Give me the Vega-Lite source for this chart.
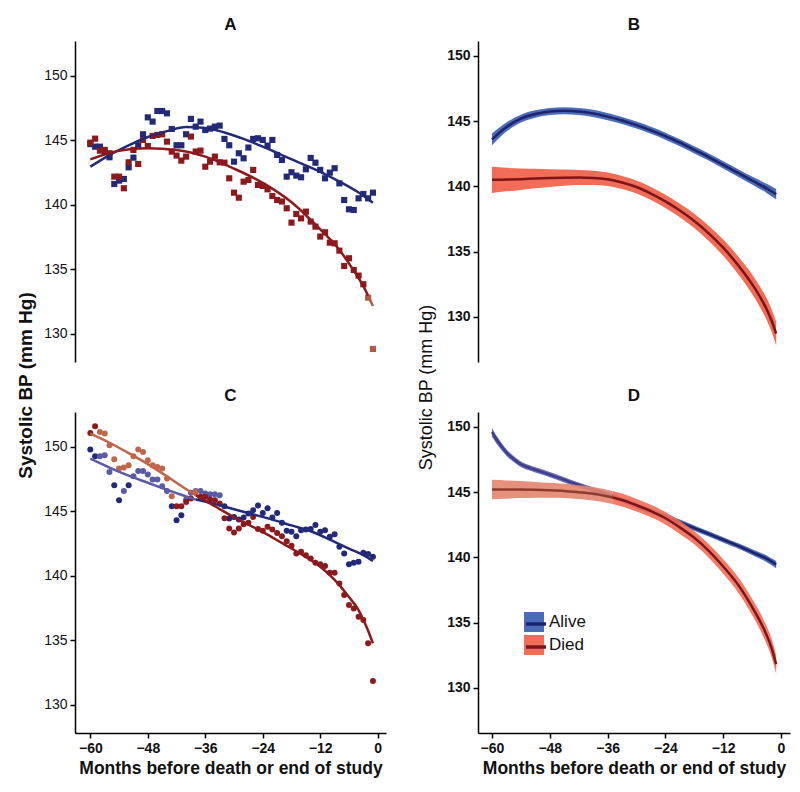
{
  "$schema": "https://vega.github.io/schema/vega-lite/v6.json",
  "background": "white",
  "padding": {"left": 16, "top": 16, "right": 5, "bottom": 5},
  "bounds": "flush",
  "columns": 2,
  "spacing": {"row": 50, "column": 92},
  "config": {
    "font": "Liberation Sans",
    "view": {"stroke": null},
    "axis": {"grid": false, "domainColor": "#000", "domainWidth": 1.5, "tickColor": "#000", "tickWidth": 1.5, "tickSize": 5, "labelFontSize": 14, "labelColor": "#111", "labelPadding": 3, "titleColor": "#111"},
    "title": {"fontSize": 17, "fontWeight": "bold", "offset": 7, "color": "#111", "anchor": "middle", "frame": "group"}
  },
  "resolve": {"scale": {"color": "independent", "fill": "independent", "stroke": "independent"}},
  "datasets": {
    "ptsA": [
      {"month":-60,"sbp":144.7,"group":"Alive"},{"month":-59,"sbp":144.5,"group":"Alive"},{"month":-58,"sbp":144.5,"group":"Alive"},{"month":-57,"sbp":144.12,"group":"Alive"},{"month":-56,"sbp":143.68,"group":"Alive"},{"month":-55,"sbp":141.61,"group":"Alive"},{"month":-54,"sbp":141.87,"group":"Alive"},{"month":-53,"sbp":142.0,"group":"Alive"},{"month":-52,"sbp":142.9,"group":"Alive"},{"month":-51,"sbp":143.65,"group":"Alive"},
      {"month":-50,"sbp":144.61,"group":"Alive"},{"month":-49,"sbp":145.46,"group":"Alive"},{"month":-48,"sbp":146.77,"group":"Alive"},{"month":-47,"sbp":146.44,"group":"Alive"},{"month":-46,"sbp":147.26,"group":"Alive"},{"month":-45,"sbp":147.26,"group":"Alive"},{"month":-44,"sbp":147.08,"group":"Alive"},{"month":-43,"sbp":145.87,"group":"Alive"},{"month":-42,"sbp":144.61,"group":"Alive"},{"month":-41,"sbp":144.61,"group":"Alive"},
      {"month":-40,"sbp":145.46,"group":"Alive"},{"month":-39,"sbp":146.65,"group":"Alive"},{"month":-38,"sbp":146.05,"group":"Alive"},{"month":-37,"sbp":146.44,"group":"Alive"},{"month":-36,"sbp":145.79,"group":"Alive"},{"month":-35,"sbp":145.9,"group":"Alive"},{"month":-34,"sbp":146.05,"group":"Alive"},{"month":-33,"sbp":146.13,"group":"Alive"},{"month":-32,"sbp":145.1,"group":"Alive"},{"month":-31,"sbp":144.61,"group":"Alive"},
      {"month":-30,"sbp":143.34,"group":"Alive"},{"month":-29,"sbp":143.99,"group":"Alive"},{"month":-28,"sbp":143.6,"group":"Alive"},{"month":-27,"sbp":144.43,"group":"Alive"},{"month":-26,"sbp":145.1,"group":"Alive"},{"month":-25,"sbp":145.15,"group":"Alive"},{"month":-24,"sbp":145.02,"group":"Alive"},{"month":-23,"sbp":144.58,"group":"Alive"},{"month":-22,"sbp":145.02,"group":"Alive"},{"month":-21,"sbp":143.86,"group":"Alive"},
      {"month":-20,"sbp":143.47,"group":"Alive"},{"month":-19,"sbp":142.18,"group":"Alive"},{"month":-18,"sbp":142.52,"group":"Alive"},{"month":-17,"sbp":142.26,"group":"Alive"},{"month":-16,"sbp":142.13,"group":"Alive"},{"month":-15,"sbp":142.75,"group":"Alive"},{"month":-14,"sbp":143.63,"group":"Alive"},{"month":-13,"sbp":143.26,"group":"Alive"},{"month":-12,"sbp":142.7,"group":"Alive"},{"month":-11,"sbp":142.05,"group":"Alive"},
      {"month":-10,"sbp":142.49,"group":"Alive"},{"month":-9,"sbp":142.83,"group":"Alive"},{"month":-8,"sbp":141.66,"group":"Alive"},{"month":-7,"sbp":140.37,"group":"Alive"},{"month":-6,"sbp":139.65,"group":"Alive"},{"month":-5,"sbp":139.6,"group":"Alive"},{"month":-4,"sbp":140.5,"group":"Alive"},{"month":-3,"sbp":140.84,"group":"Alive"},{"month":-2,"sbp":140.5,"group":"Alive"},{"month":-1,"sbp":140.94,"group":"Alive"},
      {"month":-60,"sbp":144.81,"group":"Died"},{"month":-59,"sbp":145.12,"group":"Died"},{"month":-58,"sbp":144.19,"group":"Died"},{"month":-57,"sbp":144.25,"group":"Died"},{"month":-56,"sbp":143.99,"group":"Died"},{"month":-55,"sbp":142.18,"group":"Died"},{"month":-54,"sbp":142.18,"group":"Died"},{"month":-53,"sbp":141.28,"group":"Died"},{"month":-52,"sbp":143.29,"group":"Died"},{"month":-51,"sbp":144.25,"group":"Died"},
      {"month":-50,"sbp":143.16,"group":"Died"},{"month":-49,"sbp":145.02,"group":"Died"},{"month":-48,"sbp":144.55,"group":"Died"},{"month":-47,"sbp":145.33,"group":"Died"},{"month":-46,"sbp":145.41,"group":"Died"},{"month":-45,"sbp":145.46,"group":"Died"},{"month":-44,"sbp":144.89,"group":"Died"},{"month":-43,"sbp":144.12,"group":"Died"},{"month":-42,"sbp":143.81,"group":"Died"},{"month":-41,"sbp":143.42,"group":"Died"},
      {"month":-40,"sbp":143.73,"group":"Died"},{"month":-39,"sbp":145.28,"group":"Died"},{"month":-38,"sbp":144.12,"group":"Died"},{"month":-37,"sbp":144.19,"group":"Died"},{"month":-36,"sbp":142.95,"group":"Died"},{"month":-35,"sbp":143.34,"group":"Died"},{"month":-34,"sbp":143.73,"group":"Died"},{"month":-33,"sbp":143.29,"group":"Died"},{"month":-32,"sbp":143.26,"group":"Died"},{"month":-31,"sbp":142.05,"group":"Died"},
      {"month":-30,"sbp":140.94,"group":"Died"},{"month":-29,"sbp":140.55,"group":"Died"},{"month":-28,"sbp":141.79,"group":"Died"},{"month":-27,"sbp":141.92,"group":"Died"},{"month":-26,"sbp":142.7,"group":"Died"},{"month":-25,"sbp":141.54,"group":"Died"},{"month":-24,"sbp":141.46,"group":"Died"},{"month":-23,"sbp":141.2,"group":"Died"},{"month":-22,"sbp":140.68,"group":"Died"},{"month":-21,"sbp":140.37,"group":"Died"},
      {"month":-20,"sbp":140.25,"group":"Died"},{"month":-19,"sbp":139.73,"group":"Died"},{"month":-18,"sbp":138.62,"group":"Died"},{"month":-17,"sbp":139.29,"group":"Died"},{"month":-16,"sbp":138.95,"group":"Died"},{"month":-15,"sbp":139.47,"group":"Died"},{"month":-14,"sbp":138.7,"group":"Died"},{"month":-13,"sbp":138.31,"group":"Died"},{"month":-12,"sbp":137.54,"group":"Died"},{"month":-11,"sbp":137.87,"group":"Died"},
      {"month":-10,"sbp":137.07,"group":"Died"},{"month":-9,"sbp":137.02,"group":"Died"},{"month":-8,"sbp":136.45,"group":"Died"},{"month":-7,"sbp":135.26,"group":"Died"},{"month":-6,"sbp":135.86,"group":"Died"},{"month":-5,"sbp":134.95,"group":"Died"},{"month":-4,"sbp":134.52,"group":"Died"},{"month":-3,"sbp":133.85,"group":"Died"},{"month":-2,"sbp":132.81,"group":"Died light"},{"month":-1,"sbp":128.84,"group":"Died light"}
    ],
    "fitA": [
      {"month":-60,"sbp":142.95,"group":"Alive"},{"month":-56,"sbp":143.85,"group":"Alive"},{"month":-52,"sbp":144.6,"group":"Alive"},{"month":-48,"sbp":145.25,"group":"Alive"},{"month":-44,"sbp":145.7,"group":"Alive"},{"month":-40,"sbp":146.02,"group":"Alive"},{"month":-36,"sbp":145.95,"group":"Alive"},{"month":-32,"sbp":145.6,"group":"Alive"},{"month":-28,"sbp":145.1,"group":"Alive"},{"month":-24,"sbp":144.5,"group":"Alive"},{"month":-20,"sbp":143.85,"group":"Alive"},{"month":-16,"sbp":143.2,"group":"Alive"},{"month":-12,"sbp":142.55,"group":"Alive"},{"month":-8,"sbp":141.8,"group":"Alive"},{"month":-4,"sbp":140.95,"group":"Alive"},{"month":-1,"sbp":140.15,"group":"Alive"},
      {"month":-60,"sbp":143.52,"group":"Died"},{"month":-54,"sbp":144.19,"group":"Died"},{"month":-48,"sbp":144.37,"group":"Died"},{"month":-42,"sbp":144.25,"group":"Died"},{"month":-36,"sbp":143.73,"group":"Died"},{"month":-30,"sbp":142.8,"group":"Died"},{"month":-24,"sbp":141.7,"group":"Died"},{"month":-18,"sbp":140.2,"group":"Died"},{"month":-12,"sbp":138.1,"group":"Died"},{"month":-8,"sbp":136.5,"group":"Died"},{"month":-5,"sbp":134.9,"group":"Died"},{"month":-3,"sbp":133.7,"group":"Died"},{"month":-2,"sbp":132.95,"group":"Died"},
      {"month":-2,"sbp":132.95,"group":"Died light"},{"month":-1,"sbp":132.17,"group":"Died light"}
    ],
    "ptsC": [
      {"month":-60,"sbp":149.77,"group":"Alive"},{"month":-59,"sbp":149.25,"group":"Alive"},{"month":-58,"sbp":149.25,"group":"Alive light"},{"month":-57,"sbp":149.33,"group":"Alive light"},{"month":-56,"sbp":148.04,"group":"Alive light"},{"month":-55,"sbp":147.01,"group":"Alive"},{"month":-54,"sbp":145.85,"group":"Alive"},{"month":-53,"sbp":146.57,"group":"Alive light"},{"month":-52,"sbp":147.01,"group":"Alive"},{"month":-51,"sbp":147.71,"group":"Alive light"},
      {"month":-50,"sbp":148.12,"group":"Alive light"},{"month":-49,"sbp":148.12,"group":"Alive light"},{"month":-48,"sbp":147.84,"group":"Alive light"},{"month":-47,"sbp":147.45,"group":"Alive light"},{"month":-46,"sbp":147.45,"group":"Alive light"},{"month":-45,"sbp":146.93,"group":"Alive light"},{"month":-44,"sbp":146.57,"group":"Alive light"},{"month":-43,"sbp":145.39,"group":"Alive"},{"month":-42,"sbp":144.3,"group":"Alive"},{"month":-41,"sbp":144.69,"group":"Alive"},
      {"month":-40,"sbp":145.9,"group":"Alive light"},{"month":-39,"sbp":146.42,"group":"Alive light"},{"month":-38,"sbp":146.57,"group":"Alive light"},{"month":-37,"sbp":146.57,"group":"Alive light"},{"month":-36,"sbp":146.37,"group":"Alive light"},{"month":-35,"sbp":146.31,"group":"Alive light"},{"month":-34,"sbp":146.31,"group":"Alive light"},{"month":-33,"sbp":146.24,"group":"Alive light"},{"month":-32,"sbp":145.39,"group":"Alive"},{"month":-31,"sbp":144.43,"group":"Alive"},
      {"month":-30,"sbp":144.56,"group":"Alive"},{"month":-29,"sbp":144.36,"group":"Alive"},{"month":-28,"sbp":144.51,"group":"Alive"},{"month":-27,"sbp":144.82,"group":"Alive"},{"month":-26,"sbp":145.08,"group":"Alive"},{"month":-25,"sbp":145.44,"group":"Alive"},{"month":-24,"sbp":144.87,"group":"Alive"},{"month":-23,"sbp":145.23,"group":"Alive"},{"month":-22,"sbp":144.51,"group":"Alive"},{"month":-21,"sbp":144.87,"group":"Alive"},
      {"month":-20,"sbp":144.1,"group":"Alive"},{"month":-19,"sbp":143.48,"group":"Alive"},{"month":-18,"sbp":143.4,"group":"Alive"},{"month":-17,"sbp":143.07,"group":"Alive"},{"month":-16,"sbp":143.53,"group":"Alive"},{"month":-15,"sbp":143.58,"group":"Alive"},{"month":-14,"sbp":143.63,"group":"Alive"},{"month":-13,"sbp":143.94,"group":"Alive"},{"month":-12,"sbp":143.4,"group":"Alive"},{"month":-11,"sbp":143.53,"group":"Alive"},
      {"month":-10,"sbp":143.02,"group":"Alive"},{"month":-9,"sbp":143.22,"group":"Alive"},{"month":-8,"sbp":142.24,"group":"Alive"},{"month":-7,"sbp":141.73,"group":"Alive"},{"month":-6,"sbp":140.9,"group":"Alive"},{"month":-5,"sbp":141.01,"group":"Alive"},{"month":-4,"sbp":141.08,"group":"Alive"},{"month":-3,"sbp":141.78,"group":"Alive"},{"month":-2,"sbp":141.68,"group":"Alive"},{"month":-1,"sbp":141.47,"group":"Alive"},
      {"month":-60,"sbp":151.06,"group":"Died"},{"month":-59,"sbp":151.57,"group":"Died"},{"month":-58,"sbp":151.13,"group":"Died light"},{"month":-57,"sbp":151.01,"group":"Died light"},{"month":-56,"sbp":150.1,"group":"Died light"},{"month":-55,"sbp":149.02,"group":"Died light"},{"month":-54,"sbp":148.3,"group":"Died light"},{"month":-53,"sbp":148.38,"group":"Died light"},{"month":-52,"sbp":148.56,"group":"Died light"},{"month":-51,"sbp":149.25,"group":"Died light"},
      {"month":-50,"sbp":149.77,"group":"Died light"},{"month":-49,"sbp":149.59,"group":"Died light"},{"month":-48,"sbp":148.94,"group":"Died light"},{"month":-47,"sbp":148.56,"group":"Died light"},{"month":-46,"sbp":148.43,"group":"Died light"},{"month":-45,"sbp":148.3,"group":"Died light"},{"month":-44,"sbp":147.53,"group":"Died light"},{"month":-43,"sbp":146.16,"group":"Died light"},{"month":-42,"sbp":145.39,"group":"Died"},{"month":-41,"sbp":145.39,"group":"Died"},
      {"month":-40,"sbp":145.72,"group":"Died"},{"month":-39,"sbp":145.98,"group":"Died"},{"month":-38,"sbp":146.49,"group":"Died light"},{"month":-37,"sbp":146.11,"group":"Died"},{"month":-36,"sbp":146.11,"group":"Died"},{"month":-35,"sbp":145.9,"group":"Died"},{"month":-34,"sbp":145.85,"group":"Died"},{"month":-33,"sbp":145.59,"group":"Died"},{"month":-32,"sbp":144.46,"group":"Died"},{"month":-31,"sbp":143.66,"group":"Died"},
      {"month":-30,"sbp":143.35,"group":"Died"},{"month":-29,"sbp":143.66,"group":"Died"},{"month":-28,"sbp":143.99,"group":"Died"},{"month":-27,"sbp":144.1,"group":"Died"},{"month":-26,"sbp":144.56,"group":"Died"},{"month":-25,"sbp":143.63,"group":"Died"},{"month":-24,"sbp":143.48,"group":"Died"},{"month":-23,"sbp":143.79,"group":"Died"},{"month":-22,"sbp":143.58,"group":"Died"},{"month":-21,"sbp":143.32,"group":"Died"},
      {"month":-20,"sbp":143.07,"group":"Died"},{"month":-19,"sbp":142.68,"group":"Died"},{"month":-18,"sbp":142.32,"group":"Died"},{"month":-17,"sbp":141.73,"group":"Died"},{"month":-16,"sbp":141.86,"group":"Died"},{"month":-15,"sbp":141.6,"group":"Died"},{"month":-14,"sbp":141.34,"group":"Died"},{"month":-13,"sbp":141.01,"group":"Died"},{"month":-12,"sbp":140.9,"group":"Died"},{"month":-11,"sbp":140.75,"group":"Died"},
      {"month":-10,"sbp":140.23,"group":"Died"},{"month":-9,"sbp":140.23,"group":"Died"},{"month":-8,"sbp":139.41,"group":"Died"},{"month":-7,"sbp":138.51,"group":"Died"},{"month":-6,"sbp":137.73,"group":"Died"},{"month":-5,"sbp":137.47,"group":"Died"},{"month":-4,"sbp":136.83,"group":"Died"},{"month":-3,"sbp":136.57,"group":"Died"},{"month":-2,"sbp":134.77,"group":"Died"},{"month":-1,"sbp":131.86,"group":"Died"}
    ],
    "fitC": [
      {"month":-60,"sbp":149.07,"group":"Alive light"},{"month":-56,"sbp":148.38,"group":"Alive light"},{"month":-52,"sbp":147.75,"group":"Alive light"},{"month":-48,"sbp":147.2,"group":"Alive light"},{"month":-44,"sbp":146.65,"group":"Alive light"},{"month":-40,"sbp":146.15,"group":"Alive light"},{"month":-38,"sbp":145.9,"group":"Alive light"},
      {"month":-38,"sbp":145.9,"group":"Alive"},{"month":-34,"sbp":145.55,"group":"Alive"},{"month":-30,"sbp":145.15,"group":"Alive"},{"month":-26,"sbp":144.75,"group":"Alive"},{"month":-22,"sbp":144.35,"group":"Alive"},{"month":-18,"sbp":143.9,"group":"Alive"},{"month":-14,"sbp":143.45,"group":"Alive"},{"month":-10,"sbp":142.8,"group":"Alive"},{"month":-6,"sbp":142.1,"group":"Alive"},{"month":-3,"sbp":141.6,"group":"Alive"},{"month":-1,"sbp":141.15,"group":"Alive"},
      {"month":-60,"sbp":151.0,"group":"Died light"},{"month":-56,"sbp":150.3,"group":"Died light"},{"month":-52,"sbp":149.5,"group":"Died light"},{"month":-48,"sbp":148.65,"group":"Died light"},{"month":-44,"sbp":147.7,"group":"Died light"},{"month":-41,"sbp":146.95,"group":"Died light"},{"month":-38,"sbp":146.24,"group":"Died light"},
      {"month":-38,"sbp":146.24,"group":"Died"},{"month":-35,"sbp":145.6,"group":"Died"},{"month":-32,"sbp":144.95,"group":"Died"},{"month":-28,"sbp":144.15,"group":"Died"},{"month":-24,"sbp":143.4,"group":"Died"},{"month":-21,"sbp":142.75,"group":"Died"},{"month":-18,"sbp":142.11,"group":"Died"},{"month":-15,"sbp":141.45,"group":"Died"},{"month":-12,"sbp":140.7,"group":"Died"},{"month":-10,"sbp":140.05,"group":"Died"},{"month":-8,"sbp":139.28,"group":"Died"},{"month":-6,"sbp":138.35,"group":"Died"},{"month":-4,"sbp":137.35,"group":"Died"},{"month":-3,"sbp":136.6,"group":"Died"},{"month":-2,"sbp":135.75,"group":"Died"},{"month":-1,"sbp":134.77,"group":"Died"}
    ],
    "bandB": [
      {"month":-60,"sbp":143.6,"lo":143.15,"hi":144.05,"series":"Alive","seg":"Alive"},{"month":-57,"sbp":144.55,"lo":144.2,"hi":144.9,"series":"Alive","seg":"Alive"},{"month":-54,"sbp":145.2,"lo":144.9,"hi":145.5,"series":"Alive","seg":"Alive"},{"month":-51,"sbp":145.55,"lo":145.27,"hi":145.83,"series":"Alive","seg":"Alive"},{"month":-48,"sbp":145.75,"lo":145.48,"hi":146.02,"series":"Alive","seg":"Alive"},{"month":-45,"sbp":145.8,"lo":145.53,"hi":146.07,"series":"Alive","seg":"Alive"},{"month":-42,"sbp":145.75,"lo":145.48,"hi":146.02,"series":"Alive","seg":"Alive"},
      {"month":-39,"sbp":145.6,"lo":145.33,"hi":145.87,"series":"Alive","seg":"Alive"},{"month":-36,"sbp":145.35,"lo":145.08,"hi":145.62,"series":"Alive","seg":"Alive"},{"month":-33,"sbp":145.05,"lo":144.78,"hi":145.32,"series":"Alive","seg":"Alive"},{"month":-30,"sbp":144.7,"lo":144.43,"hi":144.97,"series":"Alive","seg":"Alive"},{"month":-27,"sbp":144.3,"lo":144.03,"hi":144.57,"series":"Alive","seg":"Alive"},{"month":-24,"sbp":143.85,"lo":143.58,"hi":144.12,"series":"Alive","seg":"Alive"},{"month":-21,"sbp":143.35,"lo":143.08,"hi":143.62,"series":"Alive","seg":"Alive"},
      {"month":-18,"sbp":142.8,"lo":142.53,"hi":143.07,"series":"Alive","seg":"Alive"},{"month":-15,"sbp":142.25,"lo":141.98,"hi":142.52,"series":"Alive","seg":"Alive"},{"month":-12,"sbp":141.65,"lo":141.37,"hi":141.93,"series":"Alive","seg":"Alive"},{"month":-9,"sbp":141.05,"lo":140.76,"hi":141.34,"series":"Alive","seg":"Alive"},{"month":-6,"sbp":140.45,"lo":140.15,"hi":140.75,"series":"Alive","seg":"Alive"},{"month":-3,"sbp":139.85,"lo":139.5,"hi":140.2,"series":"Alive","seg":"Alive"},{"month":-1,"sbp":139.4,"lo":139.0,"hi":139.8,"series":"Alive","seg":"Alive"},
      {"month":-60,"sbp":140.5,"lo":139.5,"hi":141.5,"series":"Died","seg":"Died"},{"month":-57,"sbp":140.52,"lo":139.62,"hi":141.42,"series":"Died","seg":"Died"},{"month":-54,"sbp":140.55,"lo":139.73,"hi":141.37,"series":"Died","seg":"Died"},{"month":-51,"sbp":140.6,"lo":139.85,"hi":141.35,"series":"Died","seg":"Died"},{"month":-48,"sbp":140.64,"lo":139.96,"hi":141.32,"series":"Died","seg":"Died"},{"month":-45,"sbp":140.67,"lo":140.05,"hi":141.29,"series":"Died","seg":"Died"},{"month":-42,"sbp":140.68,"lo":140.1,"hi":141.26,"series":"Died","seg":"Died"},
      {"month":-39,"sbp":140.65,"lo":140.1,"hi":141.2,"series":"Died","seg":"Died"},{"month":-36,"sbp":140.55,"lo":140.03,"hi":141.07,"series":"Died","seg":"Died"},{"month":-33,"sbp":140.3,"lo":139.8,"hi":140.8,"series":"Died","seg":"Died"},{"month":-30,"sbp":139.95,"lo":139.45,"hi":140.45,"series":"Died","seg":"Died"},{"month":-27,"sbp":139.45,"lo":138.95,"hi":139.95,"series":"Died","seg":"Died"},{"month":-24,"sbp":138.85,"lo":138.35,"hi":139.35,"series":"Died","seg":"Died"},{"month":-21,"sbp":138.15,"lo":137.63,"hi":138.67,"series":"Died","seg":"Died"},
      {"month":-18,"sbp":137.35,"lo":136.8,"hi":137.9,"series":"Died","seg":"Died"},{"month":-15,"sbp":136.4,"lo":135.82,"hi":136.98,"series":"Died","seg":"Died"},{"month":-12,"sbp":135.3,"lo":134.68,"hi":135.92,"series":"Died","seg":"Died"},{"month":-9,"sbp":134.0,"lo":133.32,"hi":134.68,"series":"Died","seg":"Died"},{"month":-6,"sbp":132.5,"lo":131.75,"hi":133.25,"series":"Died","seg":"Died"},{"month":-4,"sbp":131.3,"lo":130.5,"hi":132.1,"series":"Died","seg":"Died"},{"month":-3,"sbp":130.6,"lo":129.77,"hi":131.43,"series":"Died","seg":"Died"},{"month":-2,"sbp":129.75,"lo":128.89,"hi":130.61,"series":"Died","seg":"Died"},{"month":-1,"sbp":128.7,"lo":127.8,"hi":129.6,"series":"Died","seg":"Died"}
    ],
    "bandD": [
      {"month":-60,"sbp":149.6,"lo":149.25,"hi":149.95,"series":"Alive","seg":"Alive early"},{"month":-59,"sbp":149.0,"lo":148.7,"hi":149.3,"series":"Alive","seg":"Alive early"},{"month":-58,"sbp":148.5,"lo":148.22,"hi":148.78,"series":"Alive","seg":"Alive early"},{"month":-57,"sbp":148.05,"lo":147.8,"hi":148.3,"series":"Alive","seg":"Alive early"},{"month":-56,"sbp":147.7,"lo":147.47,"hi":147.93,"series":"Alive","seg":"Alive early"},{"month":-55,"sbp":147.4,"lo":147.18,"hi":147.62,"series":"Alive","seg":"Alive early"},{"month":-54,"sbp":147.15,"lo":146.94,"hi":147.36,"series":"Alive","seg":"Alive early"},
      {"month":-52,"sbp":146.85,"lo":146.65,"hi":147.05,"series":"Alive","seg":"Alive early"},{"month":-50,"sbp":146.6,"lo":146.4,"hi":146.8,"series":"Alive","seg":"Alive early"},{"month":-48,"sbp":146.35,"lo":146.15,"hi":146.55,"series":"Alive","seg":"Alive early"},{"month":-45,"sbp":145.95,"lo":145.75,"hi":146.15,"series":"Alive","seg":"Alive early"},{"month":-42,"sbp":145.55,"lo":145.35,"hi":145.75,"series":"Alive","seg":"Alive early"},{"month":-38,"sbp":145.05,"lo":144.85,"hi":145.25,"series":"Alive","seg":"Alive early"},
      {"month":-38,"sbp":145.05,"lo":144.85,"hi":145.25,"series":"Alive","seg":"Alive"},{"month":-36,"sbp":144.8,"lo":144.6,"hi":145.0,"series":"Alive","seg":"Alive"},{"month":-33,"sbp":144.4,"lo":144.2,"hi":144.6,"series":"Alive","seg":"Alive"},{"month":-30,"sbp":143.95,"lo":143.75,"hi":144.15,"series":"Alive","seg":"Alive"},{"month":-27,"sbp":143.55,"lo":143.35,"hi":143.75,"series":"Alive","seg":"Alive"},{"month":-24,"sbp":143.15,"lo":142.95,"hi":143.35,"series":"Alive","seg":"Alive"},{"month":-21,"sbp":142.7,"lo":142.5,"hi":142.9,"series":"Alive","seg":"Alive"},
      {"month":-18,"sbp":142.25,"lo":142.05,"hi":142.45,"series":"Alive","seg":"Alive"},{"month":-15,"sbp":141.8,"lo":141.6,"hi":142.0,"series":"Alive","seg":"Alive"},{"month":-12,"sbp":141.35,"lo":141.15,"hi":141.55,"series":"Alive","seg":"Alive"},{"month":-9,"sbp":140.9,"lo":140.7,"hi":141.1,"series":"Alive","seg":"Alive"},{"month":-6,"sbp":140.4,"lo":140.18,"hi":140.62,"series":"Alive","seg":"Alive"},{"month":-3,"sbp":139.9,"lo":139.65,"hi":140.15,"series":"Alive","seg":"Alive"},{"month":-1,"sbp":139.45,"lo":139.17,"hi":139.73,"series":"Alive","seg":"Alive"},
      {"month":-60,"sbp":145.2,"lo":144.45,"hi":145.95,"series":"Died","seg":"Died early"},{"month":-57,"sbp":145.2,"lo":144.5,"hi":145.9,"series":"Died","seg":"Died early"},{"month":-54,"sbp":145.2,"lo":144.55,"hi":145.85,"series":"Died","seg":"Died early"},{"month":-51,"sbp":145.18,"lo":144.58,"hi":145.78,"series":"Died","seg":"Died early"},{"month":-48,"sbp":145.15,"lo":144.58,"hi":145.72,"series":"Died","seg":"Died early"},{"month":-45,"sbp":145.1,"lo":144.55,"hi":145.65,"series":"Died","seg":"Died early"},{"month":-42,"sbp":145.0,"lo":144.47,"hi":145.53,"series":"Died","seg":"Died early"},{"month":-39,"sbp":144.88,"lo":144.36,"hi":145.4,"series":"Died","seg":"Died early"},{"month":-35,"sbp":144.6,"lo":144.1,"hi":145.1,"series":"Died","seg":"Died early"},
      {"month":-35,"sbp":144.6,"lo":144.1,"hi":145.1,"series":"Died","seg":"Died"},{"month":-33,"sbp":144.4,"lo":143.9,"hi":144.9,"series":"Died","seg":"Died"},{"month":-30,"sbp":144.0,"lo":143.52,"hi":144.48,"series":"Died","seg":"Died"},{"month":-27,"sbp":143.55,"lo":143.07,"hi":144.03,"series":"Died","seg":"Died"},{"month":-24,"sbp":143.0,"lo":142.52,"hi":143.48,"series":"Died","seg":"Died"},{"month":-21,"sbp":142.3,"lo":141.8,"hi":142.8,"series":"Died","seg":"Died"},{"month":-18,"sbp":141.5,"lo":141.0,"hi":142.0,"series":"Died","seg":"Died"},
      {"month":-15,"sbp":140.5,"lo":139.98,"hi":141.02,"series":"Died","seg":"Died"},{"month":-12,"sbp":139.3,"lo":138.75,"hi":139.85,"series":"Died","seg":"Died"},{"month":-9,"sbp":137.95,"lo":137.37,"hi":138.53,"series":"Died","seg":"Died"},{"month":-6,"sbp":136.2,"lo":135.58,"hi":136.82,"series":"Died","seg":"Died"},{"month":-4,"sbp":134.85,"lo":134.19,"hi":135.51,"series":"Died","seg":"Died"},{"month":-3,"sbp":134.05,"lo":133.37,"hi":134.73,"series":"Died","seg":"Died"},{"month":-2,"sbp":133.1,"lo":132.4,"hi":133.8,"series":"Died","seg":"Died"},{"month":-1,"sbp":131.8,"lo":131.08,"hi":132.52,"series":"Died","seg":"Died"}
    ]
  },
  "concat": [
    {
      "title": "A",
      "width": 311, "height": 321,
      "layer": [
        {"data": {"name": "ptsA"}, "mark": {"type": "point", "shape": "square", "filled": true, "size": 38, "opacity": 1},
         "encoding": {
           "x": {"field": "month", "type": "quantitative", "scale": {"domain": [-63.2, 1.73], "nice": false, "zero": false}, "axis": null},
           "y": {"field": "sbp", "type": "quantitative", "scale": {"domain": [127.83, 152.68], "nice": false, "zero": false},
                 "axis": {"values": [130, 135, 140, 145, 150], "title": "Systolic BP (mm Hg)", "titleFontSize": 19, "titleFontWeight": "bold", "titleX": -40, "titleY": 344}},
           "color": {"field": "group", "type": "nominal", "scale": {"domain": ["Alive", "Died", "Died light"], "range": ["#222a78", "#8c1a1c", "#b35a45"]}, "legend": null}}},
        {"data": {"name": "fitA"}, "mark": {"type": "line", "strokeWidth": 2.5, "interpolate": "monotone"},
         "encoding": {
           "x": {"field": "month", "type": "quantitative"},
           "y": {"field": "sbp", "type": "quantitative"},
           "color": {"field": "group", "type": "nominal", "legend": null}}}
      ]
    },
    {
      "title": "B",
      "width": 312, "height": 321,
      "data": {"name": "bandB"},
      "layer": [
        {"mark": {"type": "area", "opacity": 1, "interpolate": "monotone"},
         "encoding": {
           "x": {"field": "month", "type": "quantitative", "scale": {"domain": [-62.9, 1.87], "nice": false, "zero": false}, "axis": null},
           "y": {"field": "lo", "type": "quantitative", "scale": {"domain": [126.53, 151.15], "nice": false, "zero": false},
                 "axis": {"values": [130, 135, 140, 145, 150], "labelFontWeight": "bold", "title": "Systolic BP (mm Hg)", "titleFontSize": 18, "titleFontWeight": "normal", "titleX": -43, "titleY": 346}},
           "y2": {"field": "hi"},
           "fill": {"field": "seg", "type": "nominal", "scale": {"domain": ["Alive", "Died"], "range": ["#4a6bb7", "#f26d57"]}, "legend": null}}},
        {"mark": {"type": "line", "strokeWidth": 2.5, "interpolate": "monotone"},
         "encoding": {
           "x": {"field": "month", "type": "quantitative"},
           "y": {"field": "sbp", "type": "quantitative"},
           "stroke": {"field": "seg", "type": "nominal", "scale": {"domain": ["Alive", "Died"], "range": ["#1e236b", "#7b1517"]}, "legend": null}}}
      ]
    },
    {
      "title": "C",
      "width": 311, "height": 321,
      "layer": [
        {"data": {"name": "ptsC"}, "mark": {"type": "point", "shape": "circle", "filled": true, "size": 36, "opacity": 1},
         "encoding": {
           "x": {"field": "month", "type": "quantitative", "scale": {"domain": [-63.2, 1.73], "nice": false, "zero": false},
                 "axis": {"values": [-60, -48, -36, -24, -12, 0], "labelFontWeight": "bold", "title": "Months before death or end of study", "titleFontSize": 17.5, "titleFontWeight": "bold", "titlePadding": 4}},
           "y": {"field": "sbp", "type": "quantitative", "scale": {"domain": [127.83, 152.68], "nice": false, "zero": false},
                 "axis": {"values": [130, 135, 140, 145, 150], "title": null}},
           "color": {"field": "group", "type": "nominal", "scale": {"domain": ["Alive", "Died", "Alive light", "Died light"], "range": ["#222a78", "#8c1a1c", "#5a5aa6", "#bf6548"]}, "legend": null}}},
        {"data": {"name": "fitC"}, "mark": {"type": "line", "strokeWidth": 2.5, "interpolate": "monotone"},
         "encoding": {
           "x": {"field": "month", "type": "quantitative"},
           "y": {"field": "sbp", "type": "quantitative"},
           "color": {"field": "group", "type": "nominal", "legend": null}}}
      ]
    },
    {
      "title": "D",
      "width": 312, "height": 321,
      "data": {"name": "bandD"},
      "layer": [
        {"transform": [{"filter": "datum.series == 'Alive'"}],
         "mark": {"type": "area", "opacity": 1, "interpolate": "monotone"},
         "encoding": {
           "x": {"field": "month", "type": "quantitative", "scale": {"domain": [-62.9, 1.87], "nice": false, "zero": false},
                 "axis": {"values": [-60, -48, -36, -24, -12, 0], "labelFontWeight": "bold", "title": "Months before death or end of study", "titleFontSize": 17.5, "titleFontWeight": "bold", "titlePadding": 4}},
           "y": {"field": "lo", "type": "quantitative", "scale": {"domain": [126.53, 151.15], "nice": false, "zero": false},
                 "axis": {"values": [130, 135, 140, 145, 150], "labelFontWeight": "bold", "title": null}},
           "y2": {"field": "hi"},
           "fill": {"field": "seg", "type": "nominal", "scale": {"domain": ["Alive", "Died", "Alive early", "Died early"], "range": ["#4a6bb7", "#f26d57", "#6b6db2", "#e3856f"]},
                    "legend": {"orient": "none", "legendX": 46, "legendY": 200, "values": ["Alive", "Died"], "title": null, "symbolType": "square", "symbolSize": 400, "symbolStrokeWidth": 0, "labelFontSize": 17, "labelColor": "#111", "labelOffset": 5, "rowPadding": 3, "padding": 0}}}},
        {"transform": [{"filter": "datum.series == 'Alive'"}],
         "mark": {"type": "line", "strokeWidth": 2.5, "interpolate": "monotone"},
         "encoding": {
           "x": {"field": "month", "type": "quantitative"},
           "y": {"field": "sbp", "type": "quantitative"},
           "stroke": {"field": "seg", "type": "nominal", "scale": {"domain": ["Alive", "Died", "Died early", "Alive early"], "range": ["#1e236b", "#7b1517", "#8f3b2f", "#3f3f8f"]},
                      "legend": {"orient": "none", "legendX": 46, "legendY": 200, "values": ["Alive", "Died"], "title": null, "symbolType": "stroke", "symbolSize": 400, "symbolStrokeWidth": 3.5, "labelFontSize": 17, "labelExpr": "''", "labelOffset": 5, "rowPadding": 3, "padding": 0}}}},
        {"transform": [{"filter": "datum.series == 'Died'"}],
         "mark": {"type": "area", "opacity": 0.9, "interpolate": "monotone"},
         "encoding": {
           "x": {"field": "month", "type": "quantitative"},
           "y": {"field": "lo", "type": "quantitative"},
           "y2": {"field": "hi"},
           "fill": {"field": "seg", "type": "nominal"}}},
        {"transform": [{"filter": "datum.series == 'Died'"}],
         "mark": {"type": "line", "strokeWidth": 2.5, "interpolate": "monotone"},
         "encoding": {
           "x": {"field": "month", "type": "quantitative"},
           "y": {"field": "sbp", "type": "quantitative"},
           "stroke": {"field": "seg", "type": "nominal"}}}
      ]
    }
  ]
}
